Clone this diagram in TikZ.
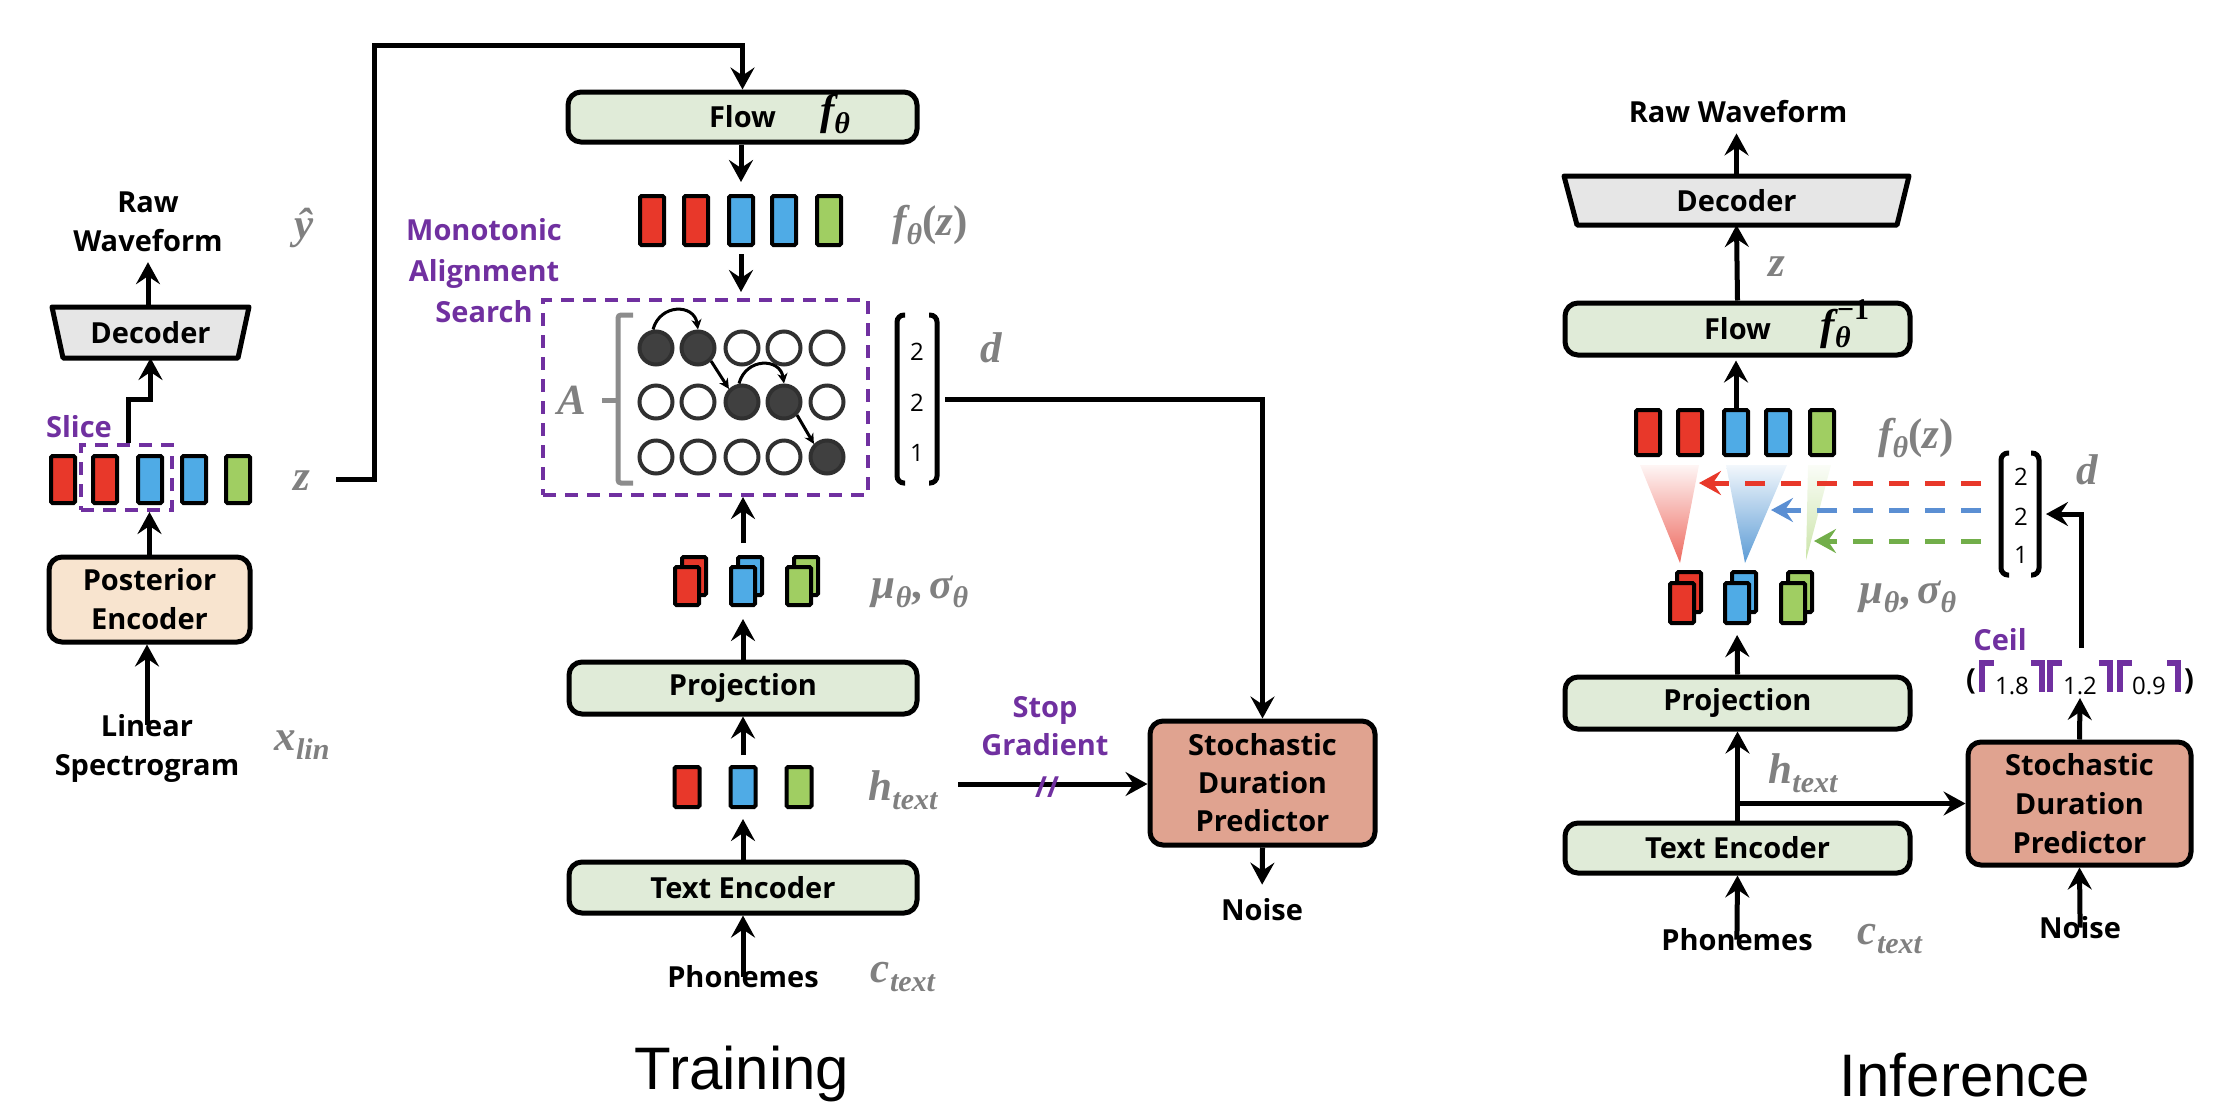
\documentclass[tikz,border=0pt]{standalone}
\usepackage[no-math]{fontspec}
\setmainfont{Open Sans}
\newfontfamily\titlefont{Liberation Sans}
\newfontfamily\mfam{Liberation Serif}
\usetikzlibrary{arrows.meta,calc}
\definecolor{cred}{HTML}{E8382A}
\definecolor{cblue}{HTML}{4FABE6}
\definecolor{cgreen}{HTML}{A0CE62}
\definecolor{cpurple}{HTML}{7030A0}
\definecolor{cgray}{HTML}{808080}
\definecolor{fgreen}{HTML}{E0EBD8}
\definecolor{fpeach}{HTML}{F8E4CF}
\definecolor{fsalmon}{HTML}{E0A390}
\definecolor{fgrayd}{HTML}{E6E6E6}
\definecolor{cdark}{HTML}{404040}
\definecolor{cedge}{HTML}{303030}
\definecolor{bgray}{HTML}{8C8C8C}
\definecolor{dblue}{HTML}{5B8FD3}
\definecolor{dgreen}{HTML}{72AE4A}
\definecolor{sblue}{HTML}{5B9BD5}
\newcommand\lblfont{\fontsize{29}{39}\selectfont\bfseries}
\newcommand\mlblfont{\mfam\bfseries\itshape\fontsize{43}{47}\selectfont}
\newcommand\digfont{\fontsize{24}{27}\selectfont}
\newcommand\sbs[1]{\raisebox{-0.2em}{\fontsize{30}{30}\selectfont #1}}
\newcommand\sps[1]{\raisebox{0.45em}{\fontsize{30}{30}\selectfont #1}}
\tikzset{
  arr/.style={line width=5pt, -{Stealth[length=22pt,width=24pt,inset=8pt]}},
  box/.style={draw, line width=5pt, rounded corners=13pt, inner sep=0pt, font=\lblfont, align=center},
  vec/.style={draw, line width=4pt, minimum width=24pt, inner sep=0pt, rounded corners=1.5pt},
  lbl/.style={inner sep=0pt, align=center, font=\lblfont},
  plbl/.style={lbl, text=cpurple},
  mlbl/.style={inner sep=0pt, text=cgray, font=\mlblfont},
  blbl/.style={inner sep=0pt, font=\mlblfont},
  odot/.style={circle, draw=cedge, line width=4pt, minimum size=33pt, inner sep=0pt, fill=white},
  fdot/.style={odot, fill=cdark},
  dbox/.style={draw=cpurple, line width=4pt, dash pattern=on 13pt off 9pt, inner sep=0pt},
  dig/.style={inner sep=0pt, font=\digfont},
  brk/.style={line width=5pt, rounded corners=7pt},
  ceilb/.style={draw=cpurple, line width=6pt},
  darr/.style={line width=5pt, dash pattern=on 20pt off 16pt, -{Stealth[length=22pt,width=24pt,inset=8pt]}},
  masarr/.style={line width=3pt, -{Stealth[length=10pt,width=10pt,inset=3pt]}},
  ttl/.style={inner sep=0pt, font={\titlefont\fontsize{60}{70}\selectfont}},
  ghost/.style={inner sep=0pt, outer sep=0pt},
}
\begin{document}
\begin{tikzpicture}[x=1pt,y=-1pt]
\useasboundingbox (0,0) rectangle (2232,1112);

%%%%%%%%%%%%%%%% TRAINING: posterior branch
\node[box, fill=fpeach, minimum width=201pt, minimum height=85pt] (post) at (149.5,599.5) {Posterior\\Encoder};
\node[lbl] (lin) at (147,748) {Linear\\Spectrogram};
\node[mlbl] (xlin) at (302,745) {x\sbs{lin}};
\draw[arr, shorten <=-11pt] (lin.north) -- (lin.north |- post.south);

\node[ghost, minimum width=197pt, minimum height=51pt] (decb) at (150.5,332.5) {};
\draw[line width=5pt, fill=fgrayd, line join=round] (decb.north west) -- (decb.north east) -- ([xshift=-11pt]decb.south east) -- ([xshift=11pt]decb.south west) -- cycle;
\node[lbl] (dec) at (decb.center) {Decoder};
\node[lbl] (rw) at (148,222) {Raw\\Waveform};
\node[mlbl] (yhat) at (304,228) {ŷ};
\draw[arr, shorten >=10pt] (decb.north -| rw.south) -- (rw.south);

\foreach \x/\c [count=\i] in {63/cred,105/cred,150/cblue,194/cblue,238/cgreen}
  \node[vec, fill=\c, minimum height=47pt] (z\i) at (\x,479.5) {};
\node[dbox, minimum width=91pt, minimum height=65pt] (slice) at (126.5,477.5) {};
\node[plbl] (slicel) at (79,427) {Slice};
\node[mlbl] (zl) at (302,481) {z};
\draw[arr] (post.north) -- (post.north |- slice.south);
\draw[arr] ([xshift=1.5pt]slice.north) -- ++(0,-44) -| (decb.south);

%%%%%%%%%%%%%%%% TRAINING: main column
\node[box, fill=fgreen, minimum width=349pt, minimum height=50pt] (flow) at (742.5,117) {Flow};
\node[blbl] (flowf) at (835,114) {f\sbs{θ}};
\coordinate (zs) at (336,479);
\draw[arr] (zs) -| (374,45) -| (flow.north);

\foreach \x/\c [count=\i] in {652/cred,696/cred,741/cblue,784/cblue,829/cgreen}
  \node[vec, fill=\c, minimum height=49pt] (f\i) at (\x,220.5) {};
\node[mlbl] (fzl) at (930,225) {f\sbs{θ}{\upshape(}z{\upshape)}};
\draw[arr, shorten >=12pt] (flow.south -| f3.north) -- (f3.north);

\node[dbox, minimum width=325pt, minimum height=195pt] (mas) at (705.5,397.5) {};
\node[plbl, font={\fontsize{29}{41}\selectfont\bfseries}] (masl) at (484,271) {Monotonic\\Alignment\\Search};
\draw[arr, shorten <=7pt, shorten >=6pt] (f3.south) -- (f3.south |- mas.north);

% alignment grid
\node[fdot] (c11) at (656,348) {};
\node[fdot] (c12) at (698,348) {};
\node[odot] (c13) at (742,348) {};
\node[odot] (c14) at (784,348) {};
\node[odot] (c15) at (827,348) {};
\node[odot] (c21) at (656,402) {};
\node[odot] (c22) at (698,402) {};
\node[fdot] (c23) at (742,402) {};
\node[fdot] (c24) at (784,402) {};
\node[odot] (c25) at (827,402) {};
\node[odot] (c31) at (656,457) {};
\node[odot] (c32) at (698,457) {};
\node[odot] (c33) at (742,457) {};
\node[odot] (c34) at (784,457) {};
\node[fdot] (c35) at (827,457) {};
\draw[masarr] ([xshift=-3pt]c11.north) .. controls ($(c11.north)+(4,-26)$) and ($(c12.north)+(-4,-26)$) .. (c12.north);
\draw[masarr] ([xshift=-3pt]c23.north) .. controls ($(c23.north)+(4,-26)$) and ($(c23.north)+(38,-26)$) .. (c24.north);
\draw[masarr] (c12.south east) -- (c23.north west);
\draw[masarr] (c24.south east) -- (c35.north west);
\draw[bgray, line width=5pt, rounded corners=3pt] (633,315) -- (618,315) -- (618,483) -- (633,483);
\draw[bgray, line width=5pt] (618,400) -- (602,400);
\node[mlbl] (al) at (572,400) {A};

% duration vector (training)
\node[ghost, minimum width=40pt, minimum height=168pt] (dtr) at (917,399) {};
\draw[brk] ([xshift=8pt]dtr.north west) -- (dtr.north west) -- (dtr.south west) -- ([xshift=8pt]dtr.south west);
\draw[brk] ([xshift=-8pt]dtr.north east) -- (dtr.north east) -- (dtr.south east) -- ([xshift=-8pt]dtr.south east);
\node[dig] (d1) at (917,352) {2};
\node[dig] (d2) at (917,403) {2};
\node[dig] (d3) at (917,453) {1};
\node[mlbl] (dl) at (991,348) {d};

% mu sigma (training)
\foreach \x/\c [count=\i] in {687/cred,743/cblue,799/cgreen}{
  \node[vec, fill=\c, minimum height=38pt] (mb\i) at (\x+7,576) {};
  \node[vec, fill=\c, minimum height=38pt] (m\i) at (\x,586) {};
}
\node[mlbl] (msl) at (920,592) {μ\sbs{θ}{\upshape,}\,σ\sbs{θ}};
\draw[arr, shorten <=22pt] (m2.north) -- (m2.north |- mas.south);

\node[box, fill=fgreen, minimum width=348pt, minimum height=52pt] (proj) at (743,688) {Projection};
\draw[arr, shorten >=12pt] (proj.north) -- (m2.south);

\foreach \x/\c [count=\i] in {687/cred,743/cblue,799/cgreen}
  \node[vec, fill=\c, minimum height=40pt, minimum width=25pt] (h\i) at (\x,787) {};
\node[mlbl] (hl) at (903,790) {h\sbs{text}};
\draw[arr, shorten <=10pt] (h2.north) -- (proj.south);

\node[box, fill=fgreen, minimum width=348pt, minimum height=51pt] (te) at (743,887.5) {Text Encoder};
\draw[arr, shorten >=10pt] (te.north) -- (h2.south);
\node[lbl] (ph) at (743,977) {Phonemes};
\node[mlbl] (cl) at (903,977) {c\sbs{text}};
\draw[arr, shorten <=-11pt] (ph.north) -- (te.south);

% stochastic duration predictor (training)
\node[box, fill=fsalmon, minimum width=225pt, minimum height=124pt, font={\fontsize{29}{38}\selectfont\bfseries}] (sdp) at (1262.5,783) {Stochastic\\Duration\\Predictor};
\coordinate (hs) at (958,784);
\draw[arr] (hs) -- (hs -| sdp.west);
\node[plbl, font={\fontsize{29}{38}\selectfont\bfseries}] (sg) at (1045,726) {Stop\\Gradient};
\node[plbl] (sgm) at (1047,787) {//};
\draw[arr] ([xshift=8pt]dtr.east) -| (sdp.north);
\node[lbl] (noise) at (1262,910) {Noise};
\draw[arr, shorten >=14pt] (sdp.south) -- (noise.north);

%%%%%%%%%%%%%%%% INFERENCE
\node[lbl] (rw2) at (1738,112) {Raw Waveform};
\node[ghost, minimum width=345pt, minimum height=49pt] (decb2) at (1736.5,200.5) {};
\draw[line width=5pt, fill=fgrayd, line join=round] (decb2.north west) -- (decb2.north east) -- ([xshift=-12pt]decb2.south east) -- ([xshift=13pt]decb2.south west) -- cycle;
\node[lbl] (dec2) at (decb2.center) {Decoder};
\draw[arr, shorten >=10pt] (decb2.north) -- (decb2.north |- rw2.south);

\node[box, fill=fgreen, minimum width=345pt, minimum height=52pt] (flow2) at (1737.5,329) {Flow};
\node[blbl] (flowf2) at (1845,324) {f\rlap{\sbs{θ}}\kern2pt\sps{\upshape −1}};
\node[mlbl] (zl2) at (1777,267) {z};
\draw[arr] (flow2.north) -- (decb2.south);

% fading cones
\shade[top color=cred!5, bottom color=cred!75] (1640,465) -- (1699,465) -- (1680,563) -- cycle;
\shade[top color=sblue!8, bottom color=sblue] (1726,465) -- (1787,465) -- (1745,563) -- cycle;
\shade[top color=cgreen!5, bottom color=cgreen!55] (1808,465) -- (1831,465) -- (1806,560) -- cycle;

\foreach \x/\c [count=\i] in {1648/cred,1690/cred,1736/cblue,1778/cblue,1822/cgreen}
  \node[vec, fill=\c, minimum height=45pt] (g\i) at (\x,432.5) {};
\node[mlbl] (fzl2) at (1916,438) {f\sbs{θ}{\upshape(}z{\upshape)}};
\draw[arr, shorten >=3pt] (g3.north) -- (g3.north |- flow2.south);

% duration vector (inference)
\node[ghost, minimum width=38pt, minimum height=122pt] (dinf) at (2020,514) {};
\draw[brk] ([xshift=8pt]dinf.north west) -- (dinf.north west) -- (dinf.south west) -- ([xshift=8pt]dinf.south west);
\draw[brk] ([xshift=-8pt]dinf.north east) -- (dinf.north east) -- (dinf.south east) -- ([xshift=-8pt]dinf.south east);
\node[dig] (e1) at (2021,477) {2};
\node[dig] (e2) at (2021,517) {2};
\node[dig] (e3) at (2021,555) {1};
\node[mlbl] (dl2) at (2087,470) {d};

\coordinate (tr) at (1699,483);
\coordinate (tb) at (1771,510);
\coordinate (tg) at (1814,541);
\draw[darr, cred] ($(dinf.west |- tr)+(-20,0)$) -- (tr);
\draw[darr, dblue] ($(dinf.west |- tb)+(-20,0)$) -- (tb);
\draw[darr, dgreen] ($(dinf.west |- tg)+(-20,0)$) -- (tg);

% mu sigma (inference)
\foreach \x/\c [count=\i] in {1682/cred,1737/cblue,1793/cgreen}{
  \node[vec, fill=\c, minimum height=40pt] (nb\i) at (\x+7,592) {};
  \node[vec, fill=\c, minimum height=40pt] (n\i) at (\x,603) {};
}
\node[mlbl] (msl2) at (1908,597) {μ\sbs{θ}{\upshape,}\,σ\sbs{θ}};

\node[box, fill=fgreen, minimum width=345pt, minimum height=52pt] (proj2) at (1737.5,703) {Projection};
\draw[arr, shorten >=10pt] (proj2.north) -- (n2.south);
\node[box, fill=fgreen, minimum width=345pt, minimum height=50pt] (te2) at (1737.5,848) {Text Encoder};
\draw[arr] (te2.north) -- (proj2.south);
\node[lbl] (ph2) at (1737,940) {Phonemes};
\node[mlbl] (cl2) at (1890,939) {c\sbs{text}};
\draw[arr, shorten <=-11pt] (ph2.north) -- (te2.south);

\node[box, fill=fsalmon, minimum width=223pt, minimum height=123pt, font={\fontsize{29}{39}\selectfont\bfseries}] (sdp2) at (2079.5,803.5) {Stochastic\\Duration\\Predictor};
\coordinate (br) at (te2.north |- sdp2.west);
\draw[arr] (br) -- (sdp2.west);
\node[mlbl] (hl2) at (1803,773) {h\sbs{text}};
\node[lbl] (noise2) at (2080,928) {Noise};
\draw[arr, shorten <=-11pt] (noise2.north) -- (sdp2.south);

% ceil row
\node[ghost, minimum width=224pt, minimum height=36pt] (ceilrow) at (2080,680) {};
\node[lbl] (lp) at (1971,681) {(};
\node[lbl] (rp) at (2189,681) {)};
\draw[ceilb] (1982,692) -- (1982,663) -- (1994,663);
\draw[ceilb] (2031,663) -- (2042,663) -- (2042,692);
\draw[ceilb] (2050,692) -- (2050,663) -- (2062,663);
\draw[ceilb] (2099,663) -- (2110,663) -- (2110,692);
\draw[ceilb] (2120,692) -- (2120,663) -- (2132,663);
\draw[ceilb] (2167,663) -- (2178,663) -- (2178,692);
\node[dig, anchor=base] (v1) at (2012,694) {1.8};
\node[dig, anchor=base] (v2) at (2080,694) {1.2};
\node[dig, anchor=base] (v3) at (2149,694) {0.9};
\node[plbl] (ceill) at (2000,640) {Ceil};
\draw[arr] (sdp2.north) -- (ceilrow.south);
\coordinate (cs) at (2081,648);
\draw[arr] (cs) |- ([xshift=7pt]dinf.east);

%%%%%%%%%%%%%%%% titles
\node[ttl] (t1) at (742,1074) {Training};
\node[ttl] (t2) at (1965,1075) {Inference};
\end{tikzpicture}
\end{document}
